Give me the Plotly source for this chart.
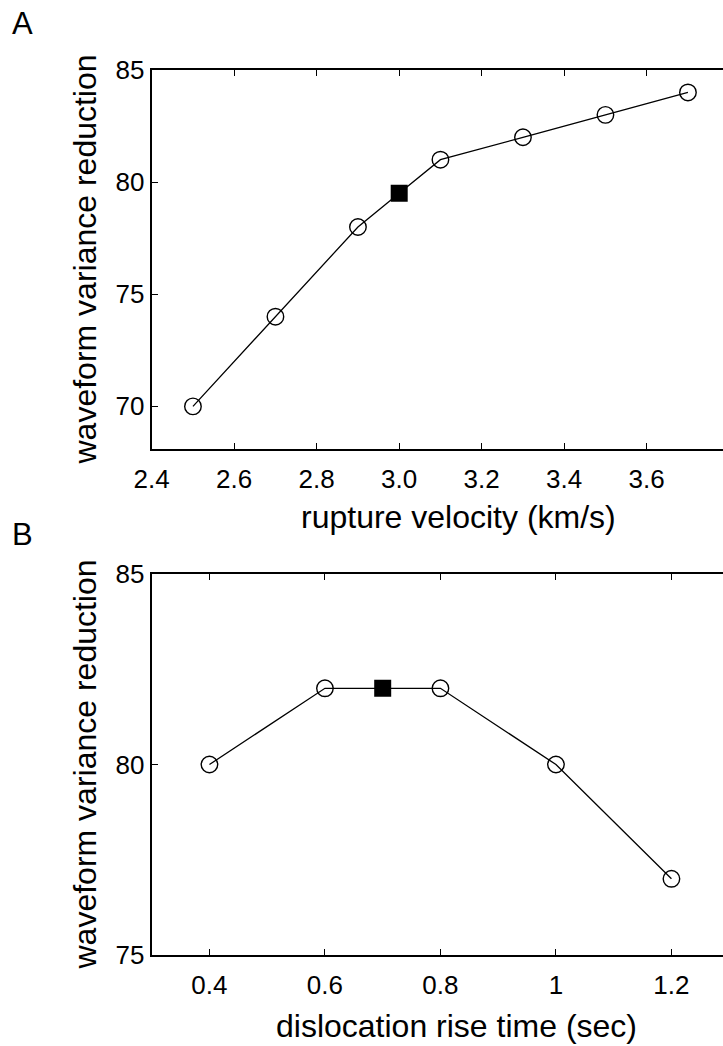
import plotly.graph_objects as go

# Figure size in pixels; layout positions below are given in pixels and converted to paper units
W, H = 723, 1046


def fx(px):
    return px / W


def fy(px):
    return 1 - px / H


# Panel A: rupture velocity sweep
rupture_velocity = [2.5, 2.7, 2.9, 3.0, 3.1, 3.3, 3.5, 3.7]
vr_rupture = [70, 74, 78, 79.5, 81, 82, 83, 84]
best_rupture = 3.0
rupture_ticks = [2.4, 2.6, 2.8, 3.0, 3.2, 3.4, 3.6]
vr_ticks_a = [70, 75, 80, 85]

# Panel B: dislocation rise time sweep
rise_time = [0.4, 0.6, 0.7, 0.8, 1.0, 1.2]
vr_rise = [80, 82, 82, 82, 80, 77]
best_rise = 0.7
rise_ticks = [0.4, 0.6, 0.8, 1.0, 1.2]
rise_ticktext = ["0.4", "0.6", "0.8", "1", "1.2"]
vr_ticks_b = [75, 80, 85]

FONT = "Liberation Sans, Arial, sans-serif"
BLACK = "#000000"

fig = go.Figure()


def add_panel(xs, ys, best, xa, ya):
    # connecting line through every trial
    fig.add_trace(go.Scatter(
        x=xs, y=ys, mode="lines", xaxis=xa, yaxis=ya,
        line=dict(color=BLACK, width=1.3), showlegend=False, hoverinfo="skip"))
    ox = [x for x in xs if x != best]
    oy = [y for x, y in zip(xs, ys) if x != best]
    fig.add_trace(go.Scatter(
        x=ox, y=oy, mode="markers", xaxis=xa, yaxis=ya,
        marker=dict(symbol="circle-open", size=16.5, color=BLACK, line=dict(width=1.4)),
        showlegend=False))
    by = [y for x, y in zip(xs, ys) if x == best]
    fig.add_trace(go.Scatter(
        x=[best] * len(by), y=by, mode="markers", xaxis=xa, yaxis=ya,
        marker=dict(symbol="square", size=17, color=BLACK, line=dict(width=0)),
        showlegend=False))


add_panel(rupture_velocity, vr_rupture, best_rupture, "x", "y")
add_panel(rise_time, vr_rise, best_rise, "x2", "y2")

left = 151.7
tick_font = dict(family=FONT, size=26, color=BLACK)
xa_common = dict(showline=True, linecolor=BLACK, linewidth=2, mirror="ticks",
                 ticks="inside", ticklen=6, tickwidth=1, tickcolor=BLACK,
                 showgrid=False, zeroline=False, automargin=False,
                 tickfont=tick_font, ticklabelstandoff=6)
ya_common = dict(showline=True, linecolor=BLACK, linewidth=2, mirror=False,
                 ticks="inside", ticklen=6, tickwidth=1, tickcolor=BLACK,
                 showgrid=False, zeroline=False, automargin=False,
                 tickfont=tick_font)

fig.update_layout(
    template="none",
    width=W, height=H,
    margin=dict(l=0, r=0, t=0, b=0, pad=0),
    paper_bgcolor="white", plot_bgcolor="white",
    font=dict(family=FONT, color=BLACK),
    xaxis=dict(xa_common, domain=[fx(left), 1], anchor="y",
               range=[2.4, 2.4 + (W - left) / 412.5],
               tickvals=rupture_ticks, tickformat=".1f"),
    yaxis=dict(ya_common, domain=[fy(449), fy(70)], anchor="x",
               range=[68.1, 85], tickvals=vr_ticks_a),
    xaxis2=dict(xa_common, domain=[fx(left), 1], anchor="y2",
                range=[0.3, 0.3 + (W - left) / 577.5],
                tickvals=rise_ticks, ticktext=rise_ticktext),
    yaxis2=dict(ya_common, domain=[fy(955), fy(574)], anchor="x2",
                range=[75, 85], tickvals=vr_ticks_b),
)

title_font = dict(family=FONT, size=32, color=BLACK)
annotations = [
    dict(text="A", x=fx(10), y=fy(4), xanchor="left", yanchor="top",
         font=dict(family=FONT, size=31, color=BLACK)),
    dict(text="B", x=fx(10), y=fy(515), xanchor="left", yanchor="top",
         font=dict(family=FONT, size=31, color=BLACK)),
    dict(text="waveform variance reduction", x=fx(84), y=fy(259.5),
         xanchor="center", yanchor="middle", textangle=-90, font=title_font),
    dict(text="waveform variance reduction", x=fx(84), y=fy(764.5),
         xanchor="center", yanchor="middle", textangle=-90, font=title_font),
    dict(text="rupture velocity (km/s)", x=fx(458), y=fy(517),
         xanchor="center", yanchor="middle", font=title_font),
    dict(text="dislocation rise time (sec)", x=fx(456), y=fy(1026),
         xanchor="center", yanchor="middle", font=title_font),
]
for a in annotations:
    a.update(xref="paper", yref="paper", showarrow=False)
fig.update_layout(annotations=annotations)

fig.write_html("out.html")
